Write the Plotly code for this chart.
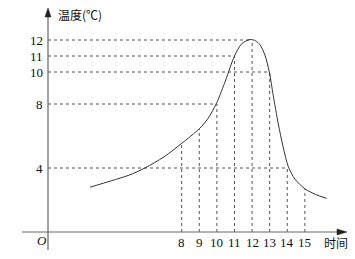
import plotly.graph_objects as go

# ---- data ----
curve_hours = [2.79, 4.0, 5.0, 5.91, 7.0, 8.0, 9.0, 9.5, 10.0, 10.5, 11.0, 11.4, 11.88, 12.2, 12.45, 12.73, 12.98, 13.2, 13.49, 13.77, 14.06, 14.44, 15.0, 15.6, 16.24]
curve_temps = [2.8, 3.2, 3.55, 4.0, 4.7, 5.54, 6.45, 7.1, 8.1, 9.5, 11.0, 11.75, 12.03, 11.95, 11.7, 11.06, 10.0, 8.55, 6.75, 5.3, 4.08, 3.3, 2.7, 2.35, 2.1]

x_ticks = [8, 9, 10, 11, 12, 13, 14, 15]
x_guide_temps = [5.54, 6.45, 8, 11, 12, 10, 4, 2.7]   # height each vertical guide reaches
y_ticks = [4, 8, 10, 11, 12]
y_guide_hours = [14, 10, 13, 11, 12]                # where each horizontal guide ends

y_title = "温度(℃)"
x_title = "时间"
origin_label = "O"

# ---- layout geometry ----
W, H = 355, 259
ML, MR, MT, MB = 48, 10, 10, 27
PW, PH = W - ML - MR, H - MT - MB
X0, X1 = 0.403, 17.28
Y0, Y1 = 0.0, 13.875

def px(x, y):
    return ((x - ML) / PW, (H - MB - y) / PH)

fig = go.Figure()

line_col = "#555555"
dash = "3px,3px"

# vertical guides
for h, t in zip(x_ticks, x_guide_temps):
    fig.add_trace(go.Scatter(x=[h, h], y=[0, t], mode="lines",
                             line=dict(color=line_col, width=1, dash=dash),
                             hoverinfo="skip", showlegend=False))
# horizontal guides
for t, h in zip(y_ticks, y_guide_hours):
    fig.add_trace(go.Scatter(x=[X0, h], y=[t, t], mode="lines",
                             line=dict(color=line_col, width=1, dash=dash),
                             hoverinfo="skip", showlegend=False))

# curve
fig.add_trace(go.Scatter(x=curve_hours, y=curve_temps, mode="lines",
                         line=dict(color="#333333", width=1, shape="spline", smoothing=0.8),
                         hoverinfo="skip", showlegend=False))

shapes = []
ax_col = "#666666"
# x axis line
a = px(22, 232); b = px(340, 232)
shapes.append(dict(type="line", xref="paper", yref="paper", x0=a[0], y0=a[1], x1=b[0], y1=b[1],
                   line=dict(color=ax_col, width=1.2)))
# y axis line
a = px(48, 250); b = px(48, 14)
shapes.append(dict(type="line", xref="paper", yref="paper", x0=a[0], y0=a[1], x1=b[0], y1=b[1],
                   line=dict(color=ax_col, width=1.2)))
# arrow heads
def tri(p1, p2, p3):
    pts = [px(*p1), px(*p2), px(*p3)]
    return "M{},{} L{},{} L{},{} Z".format(pts[0][0], pts[0][1], pts[1][0], pts[1][1], pts[2][0], pts[2][1])
shapes.append(dict(type="path", xref="paper", yref="paper", path=tri((48, 8), (45, 17), (51, 17)),
                   fillcolor="#222222", line=dict(color="#222222", width=0.5)))
shapes.append(dict(type="path", xref="paper", yref="paper", path=tri((347, 232), (337, 229), (337, 235)),
                   fillcolor="#222222", line=dict(color="#222222", width=0.5)))

annotations = []
tick_font = dict(family="Liberation Serif", size=13, color="#111111")
for h in x_ticks:
    annotations.append(dict(x=h, y=0, xref="x", yref="y", text=str(h), showarrow=False,
                            yshift=-10, font=tick_font))
for t in y_ticks:
    annotations.append(dict(x=0, y=t, xref="paper", yref="y", text=str(t), showarrow=False,
                            xanchor="right", xshift=-3, font=tick_font))
p = px(56, 15)
annotations.append(dict(x=p[0], y=p[1], xref="paper", yref="paper", text=y_title, showarrow=False,
                        xanchor="left", yanchor="middle",
                        font=dict(family="Noto Sans CJK SC", size=12, color="#111111")))
p = px(322, 242)
annotations.append(dict(x=p[0], y=p[1], xref="paper", yref="paper", text=x_title, showarrow=False,
                        xanchor="left", yanchor="middle",
                        font=dict(family="Noto Sans CJK SC", size=12, color="#111111")))
p = px(42, 240)
annotations.append(dict(x=p[0], y=p[1], xref="paper", yref="paper", text="<i>" + origin_label + "</i>",
                        showarrow=False, xanchor="center", yanchor="middle",
                        font=dict(family="Liberation Serif", size=13, color="#111111")))

fig.update_layout(
    width=W, height=H,
    margin=dict(l=ML, r=MR, t=MT, b=MB, pad=0),
    paper_bgcolor="white", plot_bgcolor="white",
    xaxis=dict(range=[X0, X1], showgrid=False, zeroline=False, showticklabels=False,
               ticks="", showline=False, fixedrange=True),
    yaxis=dict(range=[Y0, Y1], showgrid=False, zeroline=False, showticklabels=False,
               ticks="", showline=False, fixedrange=True),
    shapes=shapes, annotations=annotations,
)

fig.write_html("out.html")
